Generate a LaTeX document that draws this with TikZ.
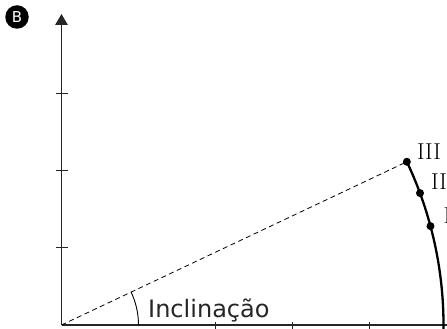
\documentclass[tikz,border=0pt]{standalone}
\usepackage{fontspec}
\usepackage{tikz}
\usetikzlibrary{arrows.meta, calc}
\newfontfamily\labelfont{DejaVu Sans}

\begin{document}
\begin{tikzpicture}[
    x=1pt, y=1pt,
    axis/.style={line width=1.3pt, draw=black!85},
    axtick/.style={line width=1pt, draw=black!85},
    ray/.style={line width=0.8pt, dash pattern=on 5pt off 3.5pt},
    curve/.style={line width=2.3pt},
    dot/.style={circle, fill=black, inner sep=0pt, minimum size=8pt},
    roman/.style={anchor=base west, inner sep=0pt, font=\fontsize{23}{26}\selectfont},
    badge/.style={circle, fill=black, text=white, inner sep=0pt, minimum size=23.5pt, font=\labelfont\fontsize{15}{16}\selectfont}
]
\useasboundingbox (0,0) rectangle (447,329);
\clip (0,0) rectangle (447,329);

\coordinate (o) at (61.5,4);
\coordinate (ytop) at (61.5,315);
\coordinate (xend) at (450,4);

% axes
\draw[axis] (o) -- (xend);
\draw[axis, -{Triangle[length=11pt, width=12.5pt]}] (o) -- (ytop);
\foreach \k in {1,2,3}
  \draw[axtick] ($(o)+(-6,77*\k)$) -- ++(12,0);
\foreach \k in {2,3,4}
  \draw[axtick] ($(o)+(77*\k,-4)$) -- ++(0,6.5);

% positions on the arc
\coordinate (c3) at ([shift={(25.3:382)}]o);
\coordinate (c2) at ([shift={(20.2:382)}]o);
\coordinate (c1) at ([shift={(15:382)}]o);

\draw[ray] (o) -- (c3);
\draw[line width=0.9pt] ([shift={(0:77)}]o) arc[start angle=0, end angle=25.3, radius=77];
\draw[curve] (c3) arc[start angle=25.3, end angle=-1, radius=382];

\node[dot] (p3) at (c3) {};
\node[dot] (p2) at (c2) {};
\node[dot] (p1) at (c1) {};

\node[roman] (l3) at ([shift={(10,2)}]c3) {III};
\node[roman] (l2) at ([shift={(11,4)}]c2) {II};
\node[roman] (l1) at ([shift={(13,3)}]c1) {I};

\node[anchor=base west, inner sep=0pt, text=black!85, font=\labelfont\fontsize{24}{28}\selectfont] (incl) at (148,11) {Inclinação};

\node[badge] (tag) at (17,312) {B};
\end{tikzpicture}
\end{document}
